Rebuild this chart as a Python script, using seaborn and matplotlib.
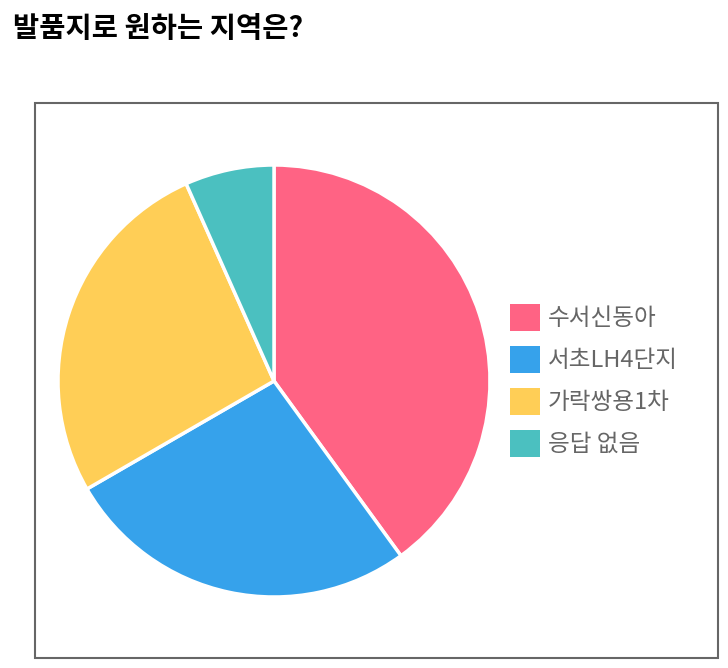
import matplotlib
matplotlib.use("Agg")
import matplotlib.pyplot as plt
import seaborn as sns
from matplotlib.patches import Rectangle, Patch

categories = ["수서신동아", "서초LH4단지", "가락쌍용1차", "응답 없음"]
values = [6, 4, 4, 1]
colors = ["#FF6384", "#36A2EB", "#FFCE56", "#4BC0C0"]
title = "발품지로 원하는 지역은?"

sns.set_theme(style="white")
plt.rcParams['font.family'] = ['Noto Sans CJK KR', 'DejaVu Sans']

W, H = 728, 668
fig = plt.figure(figsize=(W / 100, H / 100), dpi=100)

# frame box
fig.patches.append(Rectangle((35 / W, 1 - 658 / H), (718 - 35) / W, (658 - 103) / H,
                             transform=fig.transFigure, fill=False,
                             edgecolor="#666666", linewidth=1.5))

fig.text(13 / W, 1 - 29 / H, title, fontsize=20.5, fontweight='bold',
         ha='left', va='center', color='black')

cx, cy, r = 274, 381, 216
ax = fig.add_axes([(cx - r) / W, 1 - (cy + r) / H, 2 * r / W, 2 * r / H])
ax.pie(values, colors=colors, startangle=90, counterclock=False, radius=1,
       wedgeprops=dict(edgecolor='white', linewidth=2.5))
ax.set_xlim(-1, 1)
ax.set_ylim(-1, 1)
ax.set_aspect('equal')
ax.axis('off')

handles = [Patch(facecolor=c, edgecolor='none') for c in colors]
fs = 17
fpx = fs * 100 / 72
fig.legend(handles, categories, loc='upper left',
           bbox_to_anchor=(510 / W, 1 - 304 / H), frameon=False,
           fontsize=fs, labelcolor='#666666', handlelength=30 / fpx,
           handleheight=33 / fpx, handletextpad=8 / fpx, labelspacing=0.62,
           borderpad=0, borderaxespad=0)

fig.savefig("out.png", dpi=100)
